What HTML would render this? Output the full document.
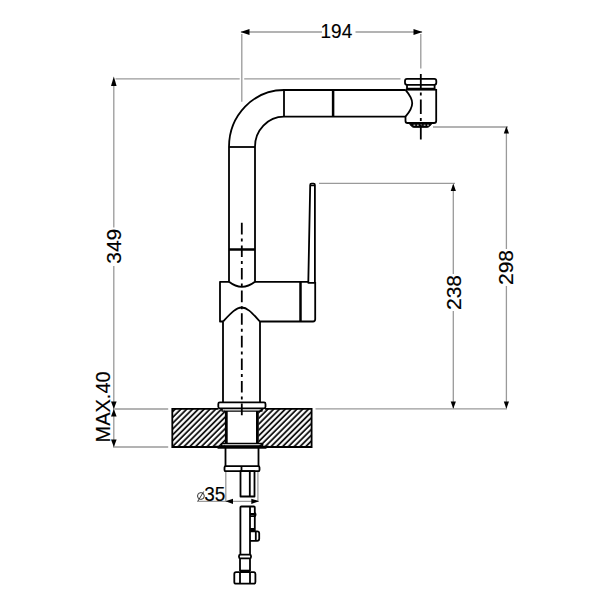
<!DOCTYPE html>
<html><head><meta charset="utf-8">
<style>
html,body{margin:0;padding:0;background:#fff;width:600px;height:600px;overflow:hidden}
svg{display:block}
text{font-family:"Liberation Sans",sans-serif;font-size:20px;fill:#000;stroke:#000;stroke-width:0.15}
</style></head><body>
<svg width="600" height="600" viewBox="0 0 600 600">
<defs>
<pattern id="hatch" patternUnits="userSpaceOnUse" width="4.1" height="10" patternTransform="rotate(45)">
<rect x="2.25" y="0" width="1.7" height="10" fill="#000"/>
</pattern>
</defs>

<!-- ============ DIMENSIONS (gray) ============ -->
<g stroke="#9a9a9a" stroke-width="1.3" fill="none">
  <!-- 194 -->
  <path d="M241,32 H322 M355.5,32 H422"/>
  <path d="M241.8,34 V101.7 M420.8,34 V68.5"/>
  <!-- 349 top ext -->
  <path d="M115.5,78.8 H239.7 M244.2,78.8 H400.5"/>
  <!-- 349 vertical -->
  <path d="M113.8,80 V227.5 M113.8,266 V447"/>
  <!-- MAX.40 ext -->
  <path d="M114.5,409 H168.2 M113,447 H168.2"/>
  <!-- deck ext right -->
  <path d="M315.5,408.8 H507"/>
  <!-- 238 -->
  <path d="M319,183.4 H455"/>
  <path d="M453.3,185 V274 M453.3,311 V408"/>
  <!-- 298 -->
  <path d="M433,127 H508"/>
  <path d="M506.4,128 V249 M506.4,286 V408"/>
  <!-- dia 35 -->
  <path d="M225.8,471 V501.5 M257.9,471 V501.5"/>
  <path d="M197,501.4 H258"/>
</g>
<!-- arrows -->
<g fill="#000" stroke="none">
  <path d="M240.5,32 L249.5,29 L249.5,35 Z"/>
  <path d="M422.5,32 L413.5,29 L413.5,35 Z"/>
  <path d="M113.8,76.5 L111,86 L116.6,86 Z"/>
  <path d="M113.8,409 L111,401.5 L116.6,401.5 Z"/>
  <path d="M113.8,409 L111,416.5 L116.6,416.5 Z"/>
  <path d="M113.8,447 L111,439.5 L116.6,439.5 Z"/>
  <path d="M453.3,183.5 L450.7,191 L455.9,191 Z"/>
  <path d="M453.3,408.8 L450.7,401.5 L455.9,401.5 Z"/>
  <path d="M506.4,126.3 L503.8,133.5 L509,133.5 Z"/>
  <path d="M506.4,408.8 L503.8,401.5 L509,401.5 Z"/>
  <path d="M225.4,501.3 L233,498.7 L233,503.9 Z"/>
  <path d="M259.2,501.3 L251.3,498.7 L251.3,503.9 Z"/>
</g>
<!-- dimension texts -->
<text transform="translate(336.4,38.1) scale(0.95,1.03)" text-anchor="middle">194</text>
<text transform="translate(121.2,246.25) rotate(-90) scale(1.05,1.03)" text-anchor="middle">349</text>
<text transform="translate(110.2,406.95) rotate(-90) scale(1,1.03)" text-anchor="middle">MAX.40</text>
<text transform="translate(461.3,292.5) rotate(-90) scale(1.05,1.03)" text-anchor="middle">238</text>
<text transform="translate(513.3,267.5) rotate(-90) scale(1.05,1.03)" text-anchor="middle">298</text>
<text transform="translate(214.8,501.3) scale(0.95,1.03)" text-anchor="middle">35</text>
<g stroke="#333" stroke-width="1" fill="none">
  <circle cx="200.9" cy="496" r="3.4"/>
  <path d="M198,501 L203.7,491.5"/>
</g>

<!-- ============ DECK (hatched) ============ -->
<rect x="172.3" y="408.8" width="139.3" height="38.2" fill="url(#hatch)" stroke="none"/>
<rect x="225" y="409" width="33.5" height="38" fill="#fff" stroke="none"/>
<path d="M218.5,408.8 H172.3 V447 H311.6 V408.8 H265" fill="none" stroke="#000" stroke-width="1.8"/>

<!-- ============ FAUCET (black) ============ -->
<g stroke="#000" stroke-width="1.8" fill="none" stroke-linejoin="round">
  <!-- spout outer/inner -->
  <path d="M229,147 A55,57 0 0 1 284,90 H405.5"/>
  <path d="M255,147 A29,30 0 0 1 284,116.7 H405.5"/>
  <path d="M284,90 V116.7"/>
  <path d="M229,147 H255"/>
  <path d="M333.1,90 V116.7" stroke-width="2.5"/>
  <!-- upper pipe -->
  <path d="M229,147 V281.8 M255,147 V281.8"/>
  <path d="M229,249.5 H255" stroke-width="2.5"/>
  <path d="M229,281.8 Q241.8,291.8 255,281.8"/>
  <!-- body block -->
  <path d="M229,281.8 H220 V321.5 H223"/>
  <path d="M255,281.8 H308"/>
  <path d="M223,321.5 C231,313 236,307.5 241.8,307.5 C247.5,307.5 252,313 260,321.5 H313 Q315.2,321.5 315.2,319.3 V282"/>
  <path d="M300.5,281.8 V321.5" stroke-width="2.5"/>
  <!-- lever -->
  <path d="M308.3,281.9 V282.8 H314.9 M308.3,282 L310.2,185 Q310.2,183.7 311.5,183.7 H313.6 Q314.9,183.7 314.9,185 V282.8"/>
  <path d="M310.2,185.6 H314.9" stroke-width="1.3"/>
  <!-- lower pipe -->
  <path d="M223,321.5 V402.5 M260,321.5 V402.5"/>
  <!-- flange -->
  <rect x="218.3" y="402.4" width="47.2" height="5.9" rx="1.5"/>
  <path d="M222,408.3 V411.1 H262 V408.3" stroke-width="1.4"/>
  <!-- tube through deck -->
  <path d="M226.3,411 V444 M257.4,411 V444" stroke-width="2.8"/>
  <!-- washer under deck -->
  <rect x="221.3" y="443.4" width="41.4" height="2.6" rx="1.2" stroke-width="1.5"/>
  <path d="M215.5,446.2 L218,448.3 H266 L268.6,446.2 Z" fill="#000" stroke-width="0.8"/>
  <!-- nut body -->
  <path d="M225.5,447 V466 M258.5,447 V466"/>
  <rect x="224.5" y="466.2" width="35" height="5" rx="1.3"/>
  <path d="M241.5,466.2 V471.2"/>
  <!-- tube -->
  <rect x="240.5" y="471.2" width="14" height="25.3"/>
  <path d="M249.8,471.2 V496.5"/>
  <!-- hose assembly -->
  <path d="M240.4,554.6 V507.5 Q240.4,506.5 241.4,506.5 H253.8 Q254.8,506.5 254.8,507.5 V531"/>
  <path d="M250,506.5 V554.5"/>
  <path d="M250,514 H254.8 M250,516.2 H254.8"/>
  <path d="M254.8,513 Q256.3,514.5 254.8,516.5"/>
  <path d="M250,529.5 H255" stroke-width="3"/>
  <path d="M250,531.3 H257.2 Q259.2,531.3 259.2,533.3 V538.8 Q259.2,540.8 257.2,540.8 H250"/>
  <path d="M255.8,531.3 V540.8"/>
  <rect x="239" y="554.6" width="12" height="3.8" rx="1.5"/>
  <path d="M240,558.4 V571 M250,558.4 V571"/>
  <path d="M240,571 H250" stroke-width="2.6"/>
  <rect x="234.3" y="572.2" width="21.1" height="11.5" rx="1.8"/>
  <path d="M240,572.2 V583.7 M250,572.2 V583.7"/>

  <!-- spout head -->
  <rect x="405" y="78.9" width="31.3" height="5.9" rx="2"/>
  <path d="M407,84.8 V88.6 H434.6 V84.8"/>
  <path d="M405.5,89.7 H436.2"/>
  <path d="M405.5,89.8 C409.5,94.5 412.2,98.5 412.2,103.2 C412.2,108 409.5,112 405.5,116.6 V121 Q405.5,123 407.5,123 H434 Q436.2,123 436.2,121 V89"/>
  <path d="M408.8,123 L411.5,126.3 Q412.5,127.3 414,127.3 H427 Q428.5,127.3 429.5,126.3 L432.5,123 Z" fill="#000" stroke-width="1"/>
</g>
<g stroke="#fff" stroke-width="0.9" fill="none" stroke-dasharray="1.8 1.6">
  <path d="M413.5,125.2 H429"/>
</g>


<!-- centerlines -->
<g stroke="#000" stroke-width="1.8" fill="none">
  <path d="M420.8,74 V140" stroke-dasharray="14.5 4 3 4"/>
  <path d="M241.8,222.8 V415.3" stroke-dasharray="11.6 4 3 4"/>
</g>
</svg>
</body></html>
